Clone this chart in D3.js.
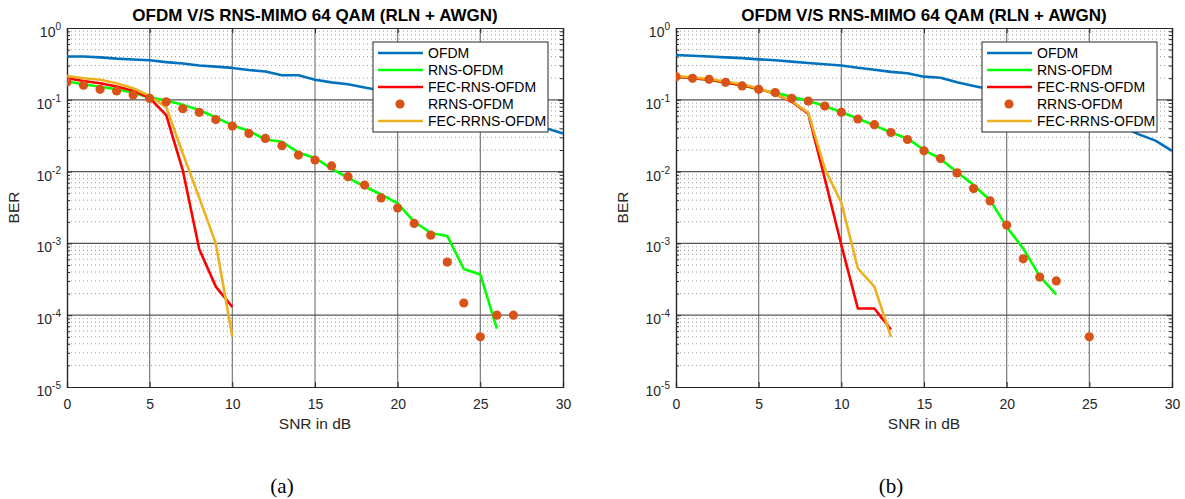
<!DOCTYPE html>
<html><head><meta charset="utf-8">
<script src="https://cdn.jsdelivr.net/npm/d3@7"></script>
<style>body{margin:0;background:#fff}svg{display:block}</style>
</head><body>
<svg id="chart" width="1185" height="499"></svg>
<script>
// ---------- data ----------
const titleText = "OFDM V/S RNS-MIMO 64 QAM (RLN + AWGN)";
const seriesNames = ["OFDM", "RNS-OFDM", "FEC-RNS-OFDM", "RRNS-OFDM", "FEC-RRNS-OFDM"];
const xTicks = [0, 5, 10, 15, 20, 25, 30];
const yTickExps = [0, -1, -2, -3, -4, -5];
const panelLabels = ["(a)", "(b)"];

// panel (a)
const aOFDM = [0.40,0.40,0.39,0.375,0.365,0.355,0.335,0.32,0.30,0.29,0.278,0.26,0.248,0.22,0.22,0.19,0.175,0.165,0.148,0.135,0.125,0.113,0.102,0.092,0.082,0.072,0.064,0.056,0.048,0.040,0.034];
const aRNS = [0.18,0.165,0.152,0.14,0.125,0.108,0.098,0.085,0.072,0.057,0.044,0.037,0.028,0.026,0.0185,0.0155,0.011,0.0082,0.0062,0.0048,0.0036,0.002,0.0014,0.00127,0.00044,0.00037,0.000065];
const aFECRNS = [0.20,0.183,0.17,0.153,0.134,0.106,0.061,0.0105,0.00083,0.00025,0.00013];
const aRRNS = [0.177,0.16,0.14,0.133,0.117,0.105,0.094,0.075,0.067,0.053,0.043,0.034,0.029,0.023,0.017,0.0145,0.012,0.0085,0.0065,0.0043,0.0031,0.0019,0.0013,0.00055,0.000148,0.00005,0.0001,0.0001];
const aFECRRNS = [0.215,0.20,0.19,0.17,0.145,0.113,0.079,0.018,0.0043,0.001,0.00005];

// panel (b)
const bOFDM = [0.42,0.41,0.40,0.39,0.38,0.366,0.355,0.34,0.325,0.313,0.30,0.28,0.262,0.245,0.234,0.21,0.203,0.175,0.156,0.14,0.125,0.11,0.095,0.082,0.07,0.06,0.05,0.042,0.033,0.027,0.0195];
const bRNS = [0.21,0.2,0.19,0.175,0.158,0.14,0.125,0.11,0.096,0.082,0.067,0.055,0.044,0.035,0.029,0.02,0.015,0.0098,0.0065,0.0040,0.0017,0.00085,0.00035,0.000193];
const bFECRNS = [0.21,0.2,0.19,0.175,0.16,0.143,0.12,0.094,0.064,0.008,0.00095,0.000124,0.000124,0.000063];
const bRRNSx = [0,1,2,3,4,5,6,7,8,9,10,11,12,13,14,15,16,17,18,19,20,21,22,23,25];
const bRRNS = [0.21,0.199,0.193,0.175,0.156,0.14,0.126,0.105,0.096,0.082,0.067,0.054,0.045,0.035,0.028,0.0195,0.0152,0.0096,0.0058,0.0039,0.0018,0.00061,0.00034,0.0003,0.00005];
const bFECRRNS = [0.215,0.205,0.195,0.18,0.165,0.145,0.12,0.096,0.066,0.011,0.0037,0.00045,0.00025,0.00005];

const colors = ["#0072BD", "#00FF00", "#FF0000", "#D95319", "#EDB120"];

const panels = [
  {x0: 67, x1: 563, label: panelLabels[0],
   lines: [aOFDM, aRNS, aFECRNS, null, aFECRRNS],
   dotsX: aRRNS.map((d, i) => i), dots: aRRNS},
  {x0: 676, x1: 1172, label: panelLabels[1],
   lines: [bOFDM, bRNS, bFECRNS, null, bFECRRNS],
   dotsX: bRRNSx, dots: bRRNS}
];

const yTop = 28, yBot = 387;
const svg = d3.select("#chart");
const font = "'Liberation Sans', Arial, sans-serif";

panels.forEach((p, pi) => {
  const x = d3.scaleLinear().domain([0, 30]).range([p.x0, p.x1]);
  const y = d3.scaleLog().domain([1e-5, 1]).range([yBot, yTop]);
  const g = svg.append("g");
  const clipId = "clip" + pi;
  g.append("clipPath").attr("id", clipId).append("rect")
    .attr("x", p.x0).attr("y", yTop).attr("width", p.x1 - p.x0).attr("height", yBot - yTop);

  // minor horizontal grid (dotted)
  const minors = [];
  for (let e = -5; e < 0; e++) for (let m = 2; m <= 9; m++) minors.push(m * Math.pow(10, e));
  g.append("g").selectAll("line").data(minors).join("line")
    .attr("x1", p.x0).attr("x2", p.x1).attr("y1", d => y(d)).attr("y2", d => y(d))
    .attr("stroke", "#9a9a9a").attr("stroke-width", 1).attr("stroke-dasharray", "1,3");
  // major vertical grid
  g.append("g").selectAll("line").data(xTicks.slice(1, -1)).join("line")
    .attr("x1", d => x(d)).attr("x2", d => x(d)).attr("y1", yTop).attr("y2", yBot)
    .attr("stroke", "#7a7a7a").attr("stroke-width", 1.2);
  // major horizontal grid
  g.append("g").selectAll("line").data(yTickExps.slice(1, -1)).join("line")
    .attr("x1", p.x0).attr("x2", p.x1).attr("y1", d => y(Math.pow(10, d))).attr("y2", d => y(Math.pow(10, d)))
    .attr("stroke", "#555").attr("stroke-width", 1.2);

  // axes
  const ax = g.append("g").attr("transform", `translate(0,${yBot})`)
    .call(d3.axisBottom(x).tickValues(xTicks).tickSize(-5).tickPadding(12).tickFormat(d3.format("d")));
  const axTop = g.append("g").attr("transform", `translate(0,${yTop})`)
    .call(d3.axisTop(x).tickValues(xTicks).tickSize(-5).tickFormat(""));
  const ayL = g.append("g").attr("transform", `translate(${p.x0},0)`)
    .call(d3.axisLeft(y).tickValues(yTickExps.map(e => Math.pow(10, e))).tickSize(-5).tickFormat(""));
  const ayR = g.append("g").attr("transform", `translate(${p.x1},0)`)
    .call(d3.axisRight(y).tickValues(yTickExps.map(e => Math.pow(10, e))).tickSize(-5).tickFormat(""));
  const ayLm = g.append("g").attr("transform", `translate(${p.x0},0)`)
    .call(d3.axisLeft(y).tickValues(minors).tickSize(-3).tickFormat(""));
  const ayRm = g.append("g").attr("transform", `translate(${p.x1},0)`)
    .call(d3.axisRight(y).tickValues(minors).tickSize(-3).tickFormat(""));
  [ax, axTop, ayL, ayR, ayLm, ayRm].forEach(a => {
    a.selectAll(".domain").attr("stroke", "#262626").attr("stroke-width", 1.2);
    a.selectAll(".tick line").attr("stroke", "#262626");
  });
  ax.selectAll("text").attr("font-family", font).attr("font-size", 14).attr("fill", "#262626");

  // y tick labels with superscripts
  const yl = g.append("g").selectAll("text").data(yTickExps).join("text")
    .attr("x", p.x0 - 6).attr("y", d => y(Math.pow(10, d)) + 9)
    .attr("text-anchor", "end").attr("font-family", font).attr("font-size", 14).attr("fill", "#262626");
  yl.append("tspan").text("10");
  yl.append("tspan").attr("dy", -7).attr("font-size", 10).text(d => String(d));

  // axis labels
  g.append("text").attr("x", (p.x0 + p.x1) / 2).attr("y", 429).attr("text-anchor", "middle")
    .attr("font-family", font).attr("font-size", 15.5).attr("fill", "#262626").text("SNR in dB");
  g.append("text").attr("transform", `translate(${p.x0 - 48},${(yTop + yBot) / 2}) rotate(-90)`)
    .attr("text-anchor", "middle").attr("font-family", font).attr("font-size", 15.5).attr("fill", "#262626").text("BER");
  g.append("text").attr("x", (p.x0 + p.x1) / 2).attr("y", 21).attr("text-anchor", "middle")
    .attr("font-family", font).attr("font-size", 17).attr("font-weight", "bold").attr("fill", "#000").text(titleText);
  g.append("text").attr("x", (p.x0 + p.x1) / 2 - 33).attr("y", 493).attr("text-anchor", "middle")
    .attr("font-family", "'Liberation Serif', 'Times New Roman', serif").attr("font-size", 21).attr("fill", "#000").text(p.label);

  // lines
  const plot = g.append("g").attr("clip-path", `url(#${clipId})`);
  const lineGen = d3.line().x((d, i) => x(i)).y(d => y(d));
  [0, 1, 2, 4].forEach(si => {
    plot.append("path").datum(p.lines[si]).attr("d", lineGen)
      .attr("fill", "none").attr("stroke", colors[si]).attr("stroke-width", 2.6).attr("stroke-linejoin", "round");
  });
  plot.append("g").selectAll("circle").data(p.dots).join("circle")
    .attr("cx", (d, i) => x(p.dotsX[i])).attr("cy", d => y(d)).attr("r", 4.6).attr("fill", colors[3]);

  // legend
  const lx = p.x0 + 306, ly = 42, lw = 175, lh = 90;
  const lg = g.append("g");
  lg.append("rect").attr("x", lx).attr("y", ly).attr("width", lw).attr("height", lh)
    .attr("fill", "#fff").attr("stroke", "#262626").attr("stroke-width", 1);
  seriesNames.forEach((name, i) => {
    const yy = ly + 11 + i * 17;
    if (i === 3) {
      lg.append("circle").attr("cx", lx + 27).attr("cy", yy).attr("r", 4.6).attr("fill", colors[3]);
    } else {
      lg.append("line").attr("x1", lx + 5).attr("x2", lx + 50).attr("y1", yy).attr("y2", yy)
        .attr("stroke", colors[i]).attr("stroke-width", 2.6);
    }
    lg.append("text").attr("x", lx + 55).attr("y", yy + 5).attr("font-family", font).attr("font-size", 14)
      .attr("fill", "#000").text(name);
  });
});
</script>
</body></html>
